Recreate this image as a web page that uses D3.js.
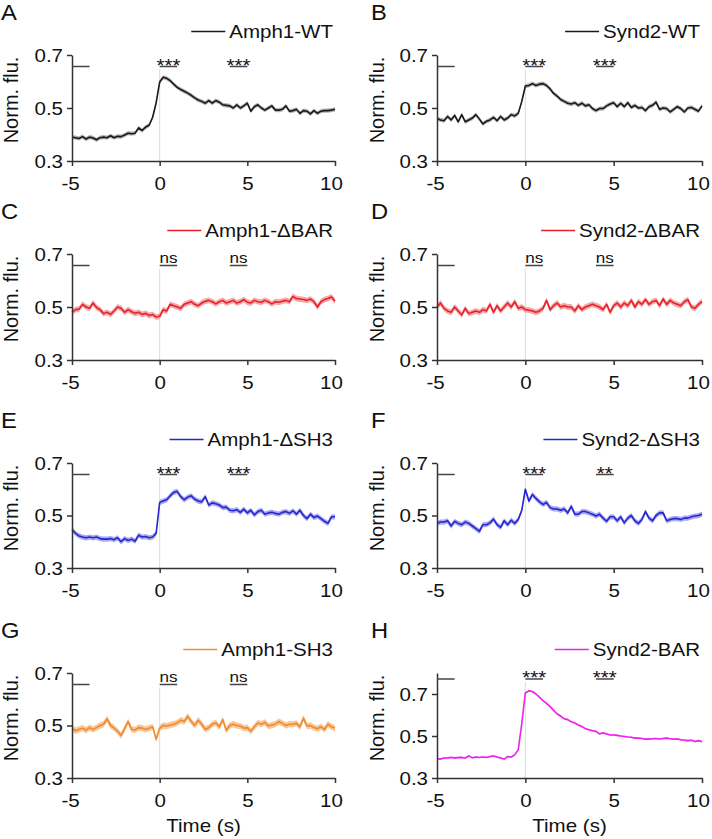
<!DOCTYPE html>
<html><head><meta charset="utf-8">
<script src="https://cdn.jsdelivr.net/npm/d3@7"></script>
<style>body{margin:0;background:#fff}svg{display:block}text{font-family:"Liberation Sans",Arial,sans-serif;fill:#111}</style>
</head><body><svg id="c" width="712" height="839"></svg>
<script>
// ---------- DATA ----------
const time = d3.range(76).map(i => +(-5 + 0.2 * i).toFixed(1));
const names = ["Amph1-WT", "Synd2-WT", "Amph1-\u0394BAR", "Synd2-\u0394BAR", "Amph1-\u0394SH3", "Synd2-\u0394SH3", "Amph1-SH3", "Synd2-BAR"];
const letters = ["A", "B", "C", "D", "E", "F", "G", "H"];
const amph1WT = [.390,.388,.385,.392,.383,.390,.387,.380,.388,.390,
 .388,.395,.388,.393,.392,.398,.405,.403,.405,.425,
 .415,.428,.435,.465,.520,.598,.616,.612,.603,.590,
 .578,.570,.563,.556,.548,.538,.530,.525,.518,.528,
 .518,.528,.522,.512,.510,.508,.500,.512,.500,.508,
 .518,.488,.505,.512,.500,.492,.500,.508,.492,.492,
 .495,.508,.488,.490,.495,.480,.490,.488,.478,.490,
 .480,.488,.490,.490,.492,.495];
const synd2WT = [.460,.455,.452,.468,.455,.472,.448,.475,.448,.455,
 .462,.475,.458,.440,.450,.455,.465,.452,.468,.455,
 .462,.475,.470,.480,.525,.583,.585,.592,.585,.590,
 .592,.585,.572,.555,.545,.532,.525,.518,.515,.520,
 .510,.518,.508,.512,.498,.490,.498,.498,.508,.515,
 .520,.505,.518,.505,.520,.502,.510,.500,.502,.490,
 .505,.510,.522,.495,.500,.498,.485,.495,.505,.498,
 .485,.500,.502,.495,.488,.508];
const amph1dBAR = [.480,.490,.492,.510,.500,.495,.515,.498,.490,.475,
 .480,.472,.485,.500,.495,.480,.490,.482,.476,.480,
 .472,.476,.468,.472,.462,.465,.490,.485,.510,.505,
 .500,.495,.510,.515,.520,.510,.505,.515,.522,.525,
 .520,.512,.520,.525,.515,.520,.525,.515,.520,.528,
 .518,.515,.525,.520,.518,.525,.520,.512,.520,.518,
 .522,.525,.520,.540,.532,.530,.528,.525,.530,.520,
 .500,.520,.528,.532,.538,.522];
const synd2dBAR = [.500,.515,.495,.485,.480,.500,.485,.470,.495,.475,
 .480,.485,.480,.490,.485,.510,.480,.505,.485,.500,
 .515,.500,.520,.495,.500,.490,.488,.485,.480,.485,
 .495,.525,.490,.505,.515,.500,.505,.500,.500,.485,
 .505,.490,.500,.505,.510,.505,.500,.490,.510,.480,
 .505,.515,.500,.515,.505,.525,.500,.520,.510,.528,
 .510,.520,.525,.505,.530,.510,.525,.515,.510,.505,
 .520,.528,.500,.495,.510,.520];
const amph1dSH3 = [.447,.432,.422,.418,.415,.418,.415,.418,.412,.410,
 .410,.412,.408,.415,.400,.412,.405,.410,.402,.425,
 .418,.420,.415,.418,.432,.550,.555,.560,.575,.588,
 .592,.572,.560,.570,.575,.562,.555,.552,.572,.540,
 .548,.545,.540,.530,.532,.520,.518,.522,.512,.524,
 .510,.520,.502,.515,.520,.505,.510,.512,.508,.505,
 .512,.515,.508,.518,.505,.520,.500,.488,.505,.492,
 .498,.488,.478,.470,.495,.495];
const synd2dSH3 = [.470,.475,.475,.480,.460,.478,.470,.465,.475,.470,
 .460,.450,.440,.465,.465,.472,.486,.465,.455,.480,
 .465,.482,.470,.485,.520,.600,.555,.580,.565,.552,
 .542,.550,.530,.525,.525,.520,.525,.510,.535,.505,
 .505,.515,.515,.510,.505,.498,.505,.490,.478,.495,
 .495,.480,.495,.472,.490,.500,.480,.470,.485,.515,
 .490,.480,.500,.510,.510,.480,.485,.488,.488,.485,
 .490,.490,.495,.498,.500,.505];
const amph1SH3 = [.490,.480,.485,.490,.482,.492,.485,.492,.500,.505,
 .525,.500,.490,.478,.462,.488,.515,.485,.483,.492,
 .490,.485,.490,.495,.448,.490,.500,.498,.502,.505,
 .510,.520,.515,.535,.515,.500,.520,.505,.485,.492,
 .505,.510,.495,.522,.482,.500,.505,.500,.498,.490,
 .492,.478,.495,.510,.505,.512,.498,.502,.505,.515,
 .508,.500,.505,.505,.508,.495,.528,.498,.500,.492,
 .488,.495,.485,.505,.495,.490];
const synd2BAR = [.392,.390,.395,.396,.398,.396,.397,.398,.395,.405,
 .396,.400,.398,.400,.398,.402,.405,.400,.395,.390,
 .402,.400,.410,.435,.560,.705,.715,.712,.700,.685,
 .668,.655,.640,.622,.605,.595,.582,.578,.568,.562,
 .552,.545,.535,.530,.525,.522,.510,.515,.510,.505,
 .505,.503,.500,.498,.495,.494,.490,.490,.488,.485,
 .485,.487,.488,.486,.488,.490,.487,.485,.486,.482,
 .480,.478,.480,.474,.478,.473];
const series = [amph1WT, synd2WT, amph1dBAR, synd2dBAR, amph1dSH3, synd2dSH3, amph1SH3, synd2BAR];
const semVals = [0.008, 0.008, 0.011, 0.011, 0.010, 0.010, 0.012, 0.004];
const sigEarly = ["***", "***", "ns", "ns", "***", "***", "ns", "***"];
const sigLate  = ["***", "***", "ns", "ns", "***", "**", "ns", "***"];
const xTicks = [-5, 0, 5, 10];
const xTickLabels = ["-5", "0", "5", "10"];
const yTicks = [0.3, 0.5, 0.7];
const yTickLabels = ["0.3", "0.5", "0.7"];
const yDomains = [[0.3,0.7],[0.3,0.7],[0.3,0.7],[0.3,0.7],[0.3,0.7],[0.3,0.7],[0.3,0.7],[0.3,0.8]];
const lineColors = ["#1a1a1a", "#1a1a1a", "#e8202a", "#e8202a", "#2626d2", "#2626d2", "#f08a2c", "#ee22ee"];
const bandColors = ["#b4b4b4", "#b4b4b4", "#f6a9ab", "#f6a9ab", "#aaaaf0", "#aaaaf0", "#f9c79a", "#f8a8f6"];

// ---------- LAYOUT ----------
const cols = [{x0: 72, x1: 335, ylab: 18, letter: 1}, {x0: 437, x1: 702, ylab: 384, letter: 371}];
const rows = [{top: 55, bottom: 161}, {top: 254, bottom: 360}, {top: 463, bottom: 568}, {top: 673, bottom: 778}];
const SX = 1.14, FS = 18;
const xLabelShift = {"-5": -2, "0": 0, "5": 0, "10": -4};

const svg = d3.select("#c");

series.forEach((vals, k) => {
  const C = cols[k % 2], R = rows[Math.floor(k / 2)];
  const x = d3.scaleLinear().domain([-5, 10]).range([C.x0, C.x1]);
  const y = d3.scaleLinear().domain(yDomains[k]).range([R.bottom, R.top]);
  const g = svg.append("g");
  const barY = k === 7 ? R.top + 6 : R.top + 11.5;
  const sem = semVals[k];

  // zero line
  g.append("line").attr("x1", x(0)).attr("x2", x(0)).attr("y1", barY + 3).attr("y2", R.bottom)
    .attr("stroke", "#dcdcdc").attr("stroke-width", 1);

  // band and mean line
  g.append("path").datum(vals)
    .attr("d", d3.area().x((d, i) => x(time[i])).y0(d => y(d - sem)).y1(d => y(d + sem)))
    .attr("fill", bandColors[k]);
  g.append("path").datum(vals)
    .attr("d", d3.line().x((d, i) => x(time[i])).y(d => y(d)))
    .attr("fill", "none").attr("stroke", lineColors[k]).attr("stroke-width", 1.6).attr("stroke-linejoin", "round");

  // axes
  const ya = g.append("g").attr("transform", `translate(${C.x0},0)`)
    .call(d3.axisLeft(y).tickValues(yTicks).tickSize(5).tickSizeOuter(0).tickFormat((d, i) => yTickLabels[i]));
  const xa = g.append("g").attr("transform", `translate(0,${R.bottom})`)
    .call(d3.axisBottom(x).tickValues(xTicks).tickSize(5).tickSizeOuter(0).tickFormat((d, i) => xTickLabels[i]));
  [ya, xa].forEach(a => {
    a.select(".domain").attr("stroke", "#333").attr("stroke-width", 1.5);
    a.selectAll(".tick line").attr("stroke", "#333").attr("stroke-width", 1.5);
    a.selectAll("text").attr("font-size", FS).attr("fill", "#111");
  });
  ya.selectAll("text").attr("x", 0).attr("dy", "0.36em").attr("transform", `translate(-9,0) scale(${SX},1)`);
  xa.selectAll("text").attr("x", 0).attr("y", 16.5).attr("dy", "0.71em")
    .attr("transform", (d, i) => `translate(${xLabelShift[xTickLabels[i]]},0) scale(${SX},1)`);

  // y label
  g.append("text").attr("transform", `translate(${C.ylab},${R.top + 45}) rotate(-90)`)
    .attr("text-anchor", "middle").attr("font-size", 20).text("Norm. flu.");

  // x label (bottom row)
  if (k >= 6) {
    g.append("text").attr("transform", `translate(${x(2.5)},${R.bottom + 54}) scale(${SX},1)`)
      .attr("text-anchor", "middle").attr("font-size", FS).text("Time (s)");
  }

  // panel letter
  g.append("text").attr("transform", `translate(${C.letter},${R.top - 35}) scale(1.08,1)`)
    .attr("font-size", 22).text(letters[k]);

  // legend
  const lt = g.append("text").attr("transform", `translate(${C.x1 - 2},${R.top - 17}) scale(${SX},1)`)
    .attr("text-anchor", "end").attr("font-size", FS).text(names[k]);
  const tw = lt.node().getComputedTextLength() * SX;
  const lx1 = C.x1 - 2 - tw - 4;
  g.append("line").attr("x1", lx1 - 34).attr("x2", lx1).attr("y1", R.top - 23.5).attr("y2", R.top - 23.5)
    .attr("stroke", lineColors[k]).attr("stroke-width", 1.3);

  // significance bars
  const bars = [[-5, -4, null], [0, 1, sigEarly[k]], [4, 5, sigLate[k]]];
  bars.forEach(([a, b, lab]) => {
    g.append("line").attr("x1", x(a)).attr("x2", x(b)).attr("y1", barY).attr("y2", barY)
      .attr("stroke", "#444").attr("stroke-width", 1.5);
    if (lab) {
      const isNs = lab === "ns";
      g.append("text")
        .attr("transform", `translate(${x((a + b) / 2)},${isNs ? barY - 2.5 : barY + 5}) scale(${SX},1)`)
        .attr("text-anchor", "middle").attr("font-size", isNs ? 15 : 18).text(lab);
    }
  });
});
</script></body></html>
